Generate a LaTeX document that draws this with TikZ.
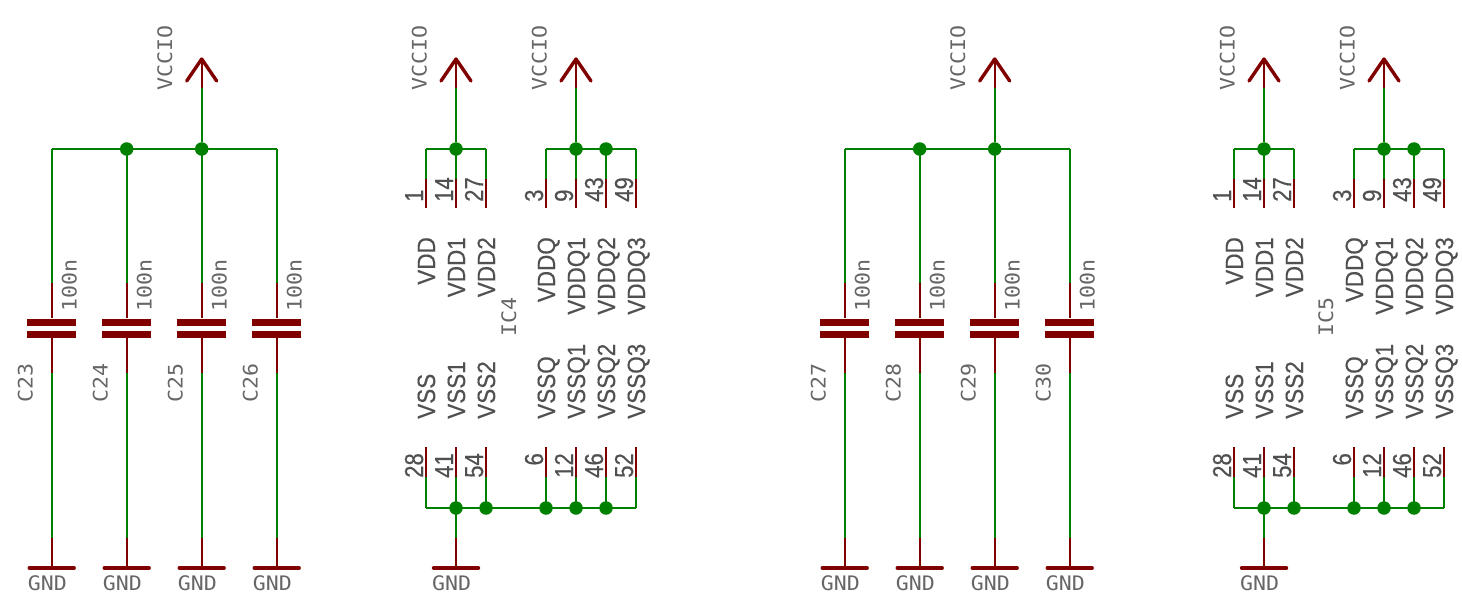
\documentclass[tikz,border=0pt]{standalone}
\usepackage{fontspec}
\usetikzlibrary{calc}
\setmonofont[FakeStretch=1.08]{DejaVu Sans Mono}
\newfontfamily\pinfont[FakeStretch=.9,FakeBold=.4]{Liberation Sans}
\newfontfamily\padfont[FakeStretch=.85,FakeBold=.4]{Liberation Sans}
\definecolor{netgreen}{HTML}{008000}
\definecolor{symred}{HTML}{800000}
\definecolor{labelgray}{HTML}{666666}
\definecolor{pingray}{HTML}{505050}
\begin{document}
\begin{tikzpicture}[x=1pt,y=-1pt,
		net/.style={draw=netgreen, line width=2.2pt},
		lead/.style={draw=symred, line width=2.2pt},
		heavy/.style={draw=symred, line width=3.4pt, line cap=round, line join=round},
		plate/.style={fill=symred, minimum width=49pt, minimum height=7pt, inner sep=0pt},
		junction/.style={circle, fill=netgreen, minimum size=13.5pt, inner sep=0pt},
		mono/.style={font=\fontsize{20}{20}\ttfamily, text=labelgray, inner sep=0pt, rotate=90},
		gndtext/.style={font=\fontsize{20}{20}\ttfamily, text=labelgray, inner sep=0pt, anchor=base west},
		pinname/.style={font=\fontsize{25}{25}\pinfont, text=pingray, inner sep=0pt, rotate=90, anchor=base east},
		pinnum/.style={font=\fontsize{26}{26}\padfont, text=pingray, inner sep=0pt, rotate=90}]
	\useasboundingbox (0,0) rectangle (1462,607);
	% capacitor banks
	\foreach \cx/\cname in {51.7/C23,126.7/C24,201.7/C25,276.7/C26,844.7/C27,919.7/C28,994.7/C29,1069.7/C30}{
		\node[plate] (\cname a) at (\cx,322) {};
		\node[plate] (\cname b) at (\cx,334) {};
		\node[mono, anchor=base west] (\cname val) at (\cx+25,312) {100n};
		\node[mono, anchor=base west] (\cname txt) at (\cx-19,403) {\cname};
		\coordinate (\cname t) at (\cx,149);
		\coordinate (\cname u) at (\cx,283);
		\coordinate (\cname l) at (\cx,373);
		\coordinate (\cname g) at (\cx,538);
		\coordinate (\cname e) at (\cx,568);
		\draw[net] (\cname t) -- (\cname u);
		\draw[lead] (\cname u) -- (\cname a);
		\draw[lead] (\cname b) -- (\cname l);
		\draw[net] (\cname l) -- (\cname g);
		\draw[lead] (\cname g) -- (\cname e);
		\draw[heavy] ($(\cname e)+(-22.5,0)$) -- ($(\cname e)+(22.5,0)$);
		\node[gndtext] (\cname gnd) at (\cx-24,590) {GND};
	}
	\draw[net] (C23t) -- (C26t);
	\draw[net] (C27t) -- (C30t);
	\node[junction] (j1) at (C24t) {};
	\node[junction] (j2) at (C28t) {};
	% power pins
	\foreach \ox/\iname/\ix in {0/IC4/516,808/IC5/1333}{
		\foreach \px/\pnum/\pname in {426/1/VDD,456/14/VDD1,486/27/VDD2,546/3/VDDQ,576/9/VDDQ1,606/43/VDDQ2,636/49/VDDQ3}{
			\coordinate (\iname t\pnum) at (\ox+\px,149);
			\coordinate (\iname m\pnum) at (\ox+\px,179);
			\coordinate (\iname e\pnum) at (\ox+\px,208);
			\draw[net] (\iname t\pnum) -- (\iname m\pnum);
			\draw[lead] (\iname m\pnum) -- (\iname e\pnum);
			\node[pinnum, anchor=base west] (\iname n\pnum) at (\ox+\px-3,202) {\pnum};
			\node[pinname] (\iname l\pnum) at (\ox+\px+9,237) {\pname};
		}
		\foreach \px/\pnum/\pname in {426/28/VSS,456/41/VSS1,486/54/VSS2,546/6/VSSQ,576/12/VSSQ1,606/46/VSSQ2,636/52/VSSQ3}{
			\coordinate (\iname t\pnum) at (\ox+\px,447);
			\coordinate (\iname m\pnum) at (\ox+\px,477);
			\coordinate (\iname e\pnum) at (\ox+\px,508);
			\draw[lead] (\iname t\pnum) -- (\iname m\pnum);
			\draw[net] (\iname m\pnum) -- (\iname e\pnum);
			\node[pinnum, anchor=base east] (\iname n\pnum) at (\ox+\px-3,453) {\pnum};
			\node[pinname, anchor=base west] (\iname l\pnum) at (\ox+\px+9,419) {\pname};
		}
		\draw[net] (\iname t1) -- (\iname t27);
		\draw[net] (\iname t3) -- (\iname t49);
		\draw[net] (\iname e28) -- (\iname e52);
		\node[junction] (\iname j43) at (\iname t43) {};
		\foreach \pnum in {41,54,6,12,46}
			\node[junction] (\iname j\pnum) at (\iname e\pnum) {};
		\node[mono, anchor=base west] (\iname) at (\ix,337) {\iname};
		\coordinate (\iname g) at (\ox+456,538);
		\coordinate (\iname b) at (\ox+456,568);
		\draw[net] (\iname e41) -- (\iname g);
		\draw[lead] (\iname g) -- (\iname b);
		\draw[heavy] ($(\iname b)+(-22.5,0)$) -- ($(\iname b)+(22.5,0)$);
		\node[gndtext] (\iname gnd) at (\ox+432,590) {GND};
	}
	% supply arrows
	\foreach \sx/\sname in {201.7/s1,456/s2,576/s3,994.7/s4,1264/s5,1384/s6}{
		\node[junction] (\sname j) at (\sx,149) {};
		\coordinate (\sname a) at (\sx,88);
		\coordinate (\sname h) at (\sx,59);
		\draw[net] (\sname j) -- (\sname a);
		\draw[lead] (\sname a) -- (\sname h);
		\draw[heavy] ($(\sname h)+(-15,22)$) -- (\sname h) -- ($(\sname h)+(15,22)$);
		\node[mono, anchor=base west] (\sname txt) at (\sx-29.5,91) {VCCIO};
	}
	\end{tikzpicture}
\end{document}
